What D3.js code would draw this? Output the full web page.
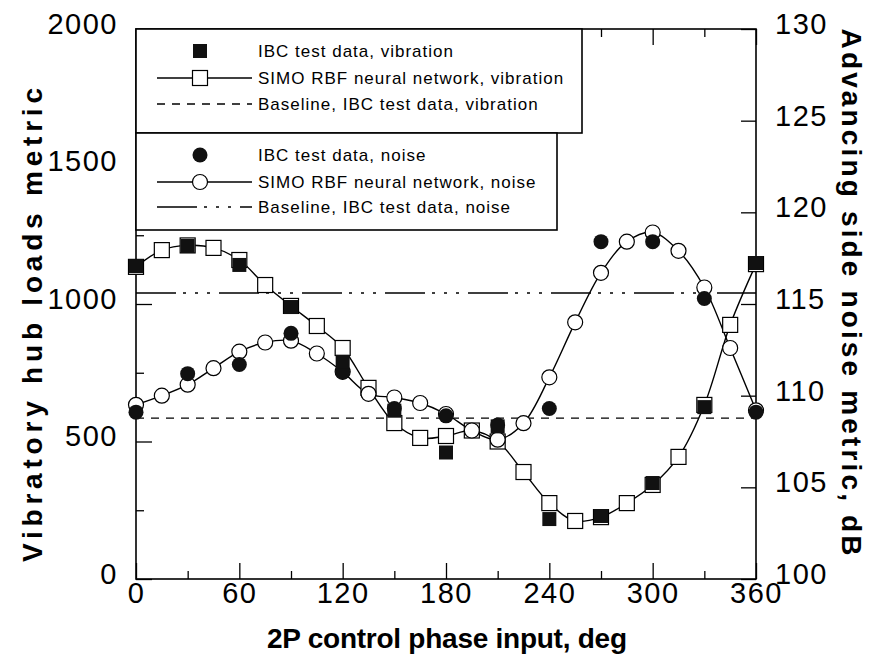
<!DOCTYPE html>
<html>
<head>
<meta charset="utf-8">
<script src="https://cdn.jsdelivr.net/npm/d3@7"></script>
<style>
  body { margin: 0; background: #fff; }
  svg { display: block; }
</style>
</head>
<body>
<div id="chart"></div>
<script>
// phase inputs (deg)
const testPhase = [0, 30, 60, 90, 120, 150, 180, 210, 240, 270, 300, 330, 360];
const simoPhase = [0, 15, 30, 45, 60, 75, 90, 105, 120, 135, 150, 165, 180,
                   195, 210, 225, 240, 255, 270, 285, 300, 315, 330, 345, 360];

// vibratory hub loads metric
const vibTest = [1138, 1211, 1142, 989, 790, 612, 460, 555, 218, 229, 349, 625, 1149];
const vibSimo = [1135, 1196, 1213, 1204, 1160, 1069, 993, 920, 840, 695, 567, 513, 520,
                 540, 500, 389, 276, 211, 225, 276, 342, 444, 633, 924, 1145];
const vibBaseline = 585;

// advancing side noise metric, dB
const noiseTest = [109.1, 111.2, 111.7, 113.4, 111.3, 109.3, 108.9, 108.4, 109.3, 118.4, 118.4, 115.3, 109.1];
const noiseSimo = [109.5, 110.0, 110.6, 111.5, 112.4, 112.9, 113.0, 112.3, 111.3, 110.1, 109.9, 109.6, 109.0,
                   108.1, 107.6, 108.5, 111.0, 114.0, 116.7, 118.4, 118.9, 117.9, 115.9, 112.6, 109.2];
const noiseBaseline = 115.6;

// ticks
const xTicks = [0, 60, 120, 180, 240, 300, 360];
const xMinor = [30, 90, 150, 210, 270, 330];
const yLeftTicks = [0, 500, 1000, 1500, 2000];
const yLeftMinor = [250, 750, 1250, 1750];
const yRightTicks = [100, 105, 110, 115, 120, 125, 130];

const legendVib = ["IBC test data, vibration", "SIMO RBF neural network, vibration", "Baseline, IBC test data, vibration"];
const legendNoise = ["IBC test data, noise", "SIMO RBF neural network, noise", "Baseline, IBC test data, noise"];

const W = 880, H = 664;
const plot = { left: 136, right: 756, top: 29, bottom: 579 };
const FONT = "'Liberation Sans', Arial, Helvetica, sans-serif";

const svg = d3.select("#chart").append("svg")
    .attr("width", W).attr("height", H);

const x = d3.scaleLinear().domain([0, 360]).range([plot.left, plot.right]);
const yL = d3.scaleLinear().domain([0, 2000]).range([plot.bottom, plot.top]);
const yR = d3.scaleLinear().domain([100, 130]).range([plot.bottom, plot.top]);

function styleAxis(g) {
    g.select(".domain").remove();
    g.selectAll(".tick line").attr("stroke", "#000").attr("stroke-width", 1.3);
    g.selectAll(".tick text")
        .attr("fill", "#000")
        .style("font-family", FONT)
        .style("font-size", "29px")
        .style("letter-spacing", "1.5px");
}
const fmt = d3.format("d");

// bottom axis
svg.append("g").attr("transform", `translate(0,${plot.bottom})`)
    .call(d3.axisBottom(x).tickValues(xTicks).tickFormat(fmt).tickSize(-16).tickSizeOuter(0).tickPadding(3))
    .call(styleAxis);
svg.append("g").attr("transform", `translate(0,${plot.bottom})`)
    .call(d3.axisBottom(x).tickValues(xMinor).tickSize(-8).tickSizeOuter(0).tickFormat(""))
    .call(styleAxis);
// top axis
svg.append("g").attr("transform", `translate(0,${plot.top})`)
    .call(d3.axisTop(x).tickValues(xTicks).tickSize(-16).tickSizeOuter(0).tickFormat(""))
    .call(styleAxis);
svg.append("g").attr("transform", `translate(0,${plot.top})`)
    .call(d3.axisTop(x).tickValues(xMinor).tickSize(-8).tickSizeOuter(0).tickFormat(""))
    .call(styleAxis);
// left axis
svg.append("g").attr("transform", `translate(${plot.left},0)`)
    .call(d3.axisLeft(yL).tickValues(yLeftTicks).tickFormat(fmt).tickSize(-16).tickSizeOuter(0).tickPadding(18))
    .call(styleAxis)
    .call(g => g.selectAll(".tick text").attr("dy", "0.15em"));
svg.append("g").attr("transform", `translate(${plot.left},0)`)
    .call(d3.axisLeft(yL).tickValues(yLeftMinor).tickSize(-8).tickSizeOuter(0).tickFormat(""))
    .call(styleAxis);
// right axis
svg.append("g").attr("transform", `translate(${plot.right},0)`)
    .call(d3.axisRight(yR).tickValues(yRightTicks).tickFormat(fmt).tickSize(-15).tickSizeOuter(0).tickPadding(19))
    .call(styleAxis)
    .call(g => g.selectAll(".tick text").attr("dy", "0.15em"));

// frame
svg.append("rect")
    .attr("x", plot.left).attr("y", plot.top)
    .attr("width", plot.right - plot.left).attr("height", plot.bottom - plot.top)
    .attr("fill", "none").attr("stroke", "#000").attr("stroke-width", 1.6);

// baselines
const dashVib = "8,7";
const dashNoise = "40,7,3,9,3,9,3,9";
svg.append("line")
    .attr("x1", x(0)).attr("x2", x(360))
    .attr("y1", yL(vibBaseline)).attr("y2", yL(vibBaseline))
    .attr("stroke", "#000").attr("stroke-width", 1.3).attr("stroke-dasharray", dashVib);
svg.append("line")
    .attr("x1", x(0)).attr("x2", x(360))
    .attr("y1", yR(noiseBaseline)).attr("y2", yR(noiseBaseline))
    .attr("stroke", "#000").attr("stroke-width", 1.3).attr("stroke-dasharray", dashNoise);

// SIMO curves
const vibLine = d3.line().x((d, i) => x(simoPhase[i])).y(d => yL(d)).curve(d3.curveCatmullRom);
const noiseLine = d3.line().x((d, i) => x(simoPhase[i])).y(d => yR(d)).curve(d3.curveCatmullRom);

svg.append("path").datum(vibSimo).attr("d", vibLine)
    .attr("fill", "none").attr("stroke", "#000").attr("stroke-width", 1.4);
svg.append("path").datum(noiseSimo).attr("d", noiseLine)
    .attr("fill", "none").attr("stroke", "#000").attr("stroke-width", 1.4);

const SQ = 15, R = 7.5;

// open markers
svg.append("g").selectAll("rect").data(vibSimo).join("rect")
    .attr("x", (d, i) => x(simoPhase[i]) - SQ / 2)
    .attr("y", d => yL(d) - SQ / 2)
    .attr("width", SQ).attr("height", SQ)
    .attr("fill", "#fff").attr("stroke", "#000").attr("stroke-width", 1.2);
svg.append("g").selectAll("circle").data(noiseSimo).join("circle")
    .attr("cx", (d, i) => x(simoPhase[i]))
    .attr("cy", d => yR(d))
    .attr("r", R)
    .attr("fill", "#fff").attr("stroke", "#000").attr("stroke-width", 1.2);

// test data markers
svg.append("g").selectAll("circle").data(noiseTest).join("circle")
    .attr("cx", (d, i) => x(testPhase[i]))
    .attr("cy", d => yR(d))
    .attr("r", R)
    .attr("fill", "#111");
svg.append("g").selectAll("rect").data(vibTest).join("rect")
    .attr("x", (d, i) => x(testPhase[i]) - 7)
    .attr("y", d => yL(d) - 7)
    .attr("width", 14).attr("height", 14)
    .attr("fill", "#111");

// legend
const leg = svg.append("g");
leg.append("rect").attr("x", plot.left).attr("y", plot.top)
    .attr("width", 582 - plot.left).attr("height", 133 - plot.top)
    .attr("fill", "#fff").attr("stroke", "#000").attr("stroke-width", 1.6);
leg.append("rect").attr("x", plot.left).attr("y", 133)
    .attr("width", 557 - plot.left).attr("height", 230 - 133)
    .attr("fill", "#fff").attr("stroke", "#000").attr("stroke-width", 1.6);

const symX0 = 157, symX1 = 252, symC = 200, textX = 258;
const rowsVib = [51, 78, 104];
const rowsNoise = [155, 182, 207];

function legendText(texts, rows) {
    leg.selectAll(null).data(texts).join("text")
        .attr("x", textX)
        .attr("y", (d, i) => rows[i])
        .attr("dy", "0.35em")
        .attr("fill", "#000")
        .style("font-family", FONT)
        .style("font-size", "17px")
        .style("letter-spacing", "1px")
        .text(d => d);
}
legendText(legendVib, rowsVib);
legendText(legendNoise, rowsNoise);

// vibration symbols
leg.append("rect").attr("x", symC - 7).attr("y", rowsVib[0] - 7)
    .attr("width", 14).attr("height", 14).attr("fill", "#111");
leg.append("line").attr("x1", symX0).attr("x2", symX1)
    .attr("y1", rowsVib[1]).attr("y2", rowsVib[1])
    .attr("stroke", "#000").attr("stroke-width", 1.4);
leg.append("rect").attr("x", symC - SQ / 2).attr("y", rowsVib[1] - SQ / 2)
    .attr("width", SQ).attr("height", SQ)
    .attr("fill", "#fff").attr("stroke", "#000").attr("stroke-width", 1.2);
leg.append("line").attr("x1", symX0).attr("x2", symX1)
    .attr("y1", rowsVib[2]).attr("y2", rowsVib[2])
    .attr("stroke", "#000").attr("stroke-width", 1.3).attr("stroke-dasharray", dashVib);

// noise symbols
leg.append("circle").attr("cx", symC).attr("cy", rowsNoise[0]).attr("r", R).attr("fill", "#111");
leg.append("line").attr("x1", symX0).attr("x2", symX1)
    .attr("y1", rowsNoise[1]).attr("y2", rowsNoise[1])
    .attr("stroke", "#000").attr("stroke-width", 1.4);
leg.append("circle").attr("cx", symC).attr("cy", rowsNoise[1]).attr("r", R)
    .attr("fill", "#fff").attr("stroke", "#000").attr("stroke-width", 1.2);
leg.append("line").attr("x1", symX0).attr("x2", symX1)
    .attr("y1", rowsNoise[2]).attr("y2", rowsNoise[2])
    .attr("stroke", "#000").attr("stroke-width", 1.3).attr("stroke-dasharray", dashNoise);

// axis titles
function title(sel) {
    return sel.attr("fill", "#000")
        .attr("text-anchor", "middle")
        .attr("lengthAdjust", "spacing")
        .style("font-family", FONT)
        .style("font-weight", "bold")
        .style("font-size", "28px");
}
svg.append("text").call(title)
    .attr("transform", "translate(32,325) rotate(-90)")
    .attr("dy", "0.35em")
    .attr("textLength", 474)
    .text("Vibratory hub loads metric");
svg.append("text").call(title)
    .attr("transform", "translate(852,292) rotate(90)")
    .attr("dy", "0.35em")
    .attr("textLength", 527)
    .text("Advancing side noise metric, dB");
svg.append("text").call(title)
    .attr("x", 447).attr("y", 648)
    .attr("textLength", 360)
    .text("2P control phase input, deg");
</script>
</body>
</html>
